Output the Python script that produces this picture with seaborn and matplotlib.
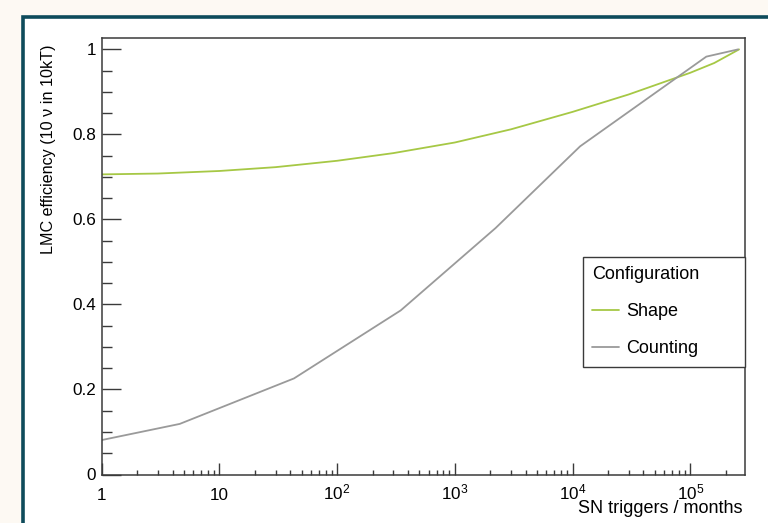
import matplotlib
matplotlib.use("Agg")
import matplotlib.pyplot as plt
import matplotlib.ticker as mticker
from matplotlib.patches import Rectangle
import numpy as np
import pandas as pd
import seaborn as sns

# --- data -----------------------------------------------------------------
shape_triggers = [1, 3, 10, 30, 100, 300, 1000, 3000, 10000, 30000, 100000, 160000, 260000]
shape_eff = [0.706, 0.708, 0.714, 0.723, 0.738, 0.756, 0.781, 0.812, 0.853, 0.894, 0.945, 0.968, 1.0]

counting_triggers = [1, 4.6, 43, 347, 2225, 11600, 137000, 255000]
counting_eff = [0.081, 0.119, 0.226, 0.386, 0.580, 0.772, 0.983, 1.0]

config_names = ["Shape", "Counting"]
config_colors = ["#a6c845", "#9a9a9a"]

xtick_values = [1, 10, 100, 1000, 10000, 100000]
xtick_labels = ["1", "10", r"$\mathregular{10^{2}}$", r"$\mathregular{10^{3}}$",
                r"$\mathregular{10^{4}}$", r"$\mathregular{10^{5}}$"]
ytick_values = [0, 0.2, 0.4, 0.6, 0.8, 1.0]
ytick_labels = ["0", "0.2", "0.4", "0.6", "0.8", "1"]

df = pd.concat([
    pd.DataFrame({"triggers": shape_triggers, "eff": shape_eff, "Configuration": "Shape"}),
    pd.DataFrame({"triggers": counting_triggers, "eff": counting_eff, "Configuration": "Counting"}),
], ignore_index=True)

# --- style ----------------------------------------------------------------
sns.set_style("white")
plt.rcParams["font.family"] = ["Liberation Sans", "DejaVu Sans"]
plt.rcParams["mathtext.fontset"] = "custom"
plt.rcParams["mathtext.rm"] = "Liberation Sans"
plt.rcParams["mathtext.it"] = "Liberation Sans:italic"
plt.rcParams["mathtext.bf"] = "Liberation Sans:bold"
plt.rcParams["text.color"] = "black"
plt.rcParams["axes.labelcolor"] = "black"

W, H = 768, 523
FS_TICK = 12.3
FS_XLAB = 13
FS_YLAB = 11.6
FS_LEG = 13
fig = plt.figure(figsize=(W / 100, H / 100), dpi=100)
fig.patch.set_facecolor("#fdf9f3")

# framed white panel behind the axes
panel = Rectangle((22.5 / W, -0.2), 1.2, 0.2 + (1 - 16.5 / H),
                  transform=fig.transFigure, facecolor="white",
                  edgecolor="#0e4b5b", linewidth=2.6, zorder=-10)
fig.patches.append(panel)

ax_left, ax_right, ax_top, ax_bottom = 101.7, 745.0, 37.5, 474.5
ax = fig.add_axes([ax_left / W, 1 - ax_bottom / H,
                   (ax_right - ax_left) / W, (ax_bottom - ax_top) / H])
ax.set_facecolor("white")

sns.lineplot(data=df, x="triggers", y="eff", hue="Configuration",
             hue_order=config_names, palette=config_colors,
             estimator=None, sort=False, linewidth=1.3, ax=ax)

ax.set_xscale("log")
ax.set_xlim(1, 2.92e5)
ax.set_ylim(0, 1.028)

for s in ax.spines.values():
    s.set_color("#3a3a3a")
    s.set_linewidth(1.1)

ax.xaxis.set_major_locator(mticker.FixedLocator(xtick_values))
ax.xaxis.set_major_formatter(mticker.FixedFormatter(xtick_labels))
ax.xaxis.set_minor_locator(mticker.LogLocator(base=10, subs=np.arange(2, 10), numticks=20))
ax.xaxis.set_minor_formatter(mticker.NullFormatter())
ax.yaxis.set_major_locator(mticker.FixedLocator(ytick_values))
ax.yaxis.set_major_formatter(mticker.FixedFormatter(ytick_labels))
ax.yaxis.set_minor_locator(mticker.MultipleLocator(0.05))

ax.tick_params(axis="both", which="both", direction="in", color="#3a3a3a",
               width=1.0, labelsize=FS_TICK, labelcolor="black",
               bottom=True, left=True, top=False, right=False)
ax.tick_params(axis="x", which="major", length=12 * 0.72, pad=18.0)
ax.tick_params(axis="x", which="minor", length=5.5 * 0.72)
ax.tick_params(axis="y", which="major", length=19 * 0.72, pad=4)
ax.tick_params(axis="y", which="minor", length=10 * 0.72)
for lab in ax.get_xticklabels():
    lab.set_verticalalignment("baseline")

ax.set_xlabel("SN triggers / months", fontsize=FS_XLAB, loc="right")
ax.xaxis.label.set_verticalalignment("baseline")
ax.xaxis.set_label_coords((742.5 - ax_left) / (ax_right - ax_left),
                          -(512.7 - ax_bottom) / (ax_bottom - ax_top))
ax.set_ylabel("LMC efficiency (10 \u03bd in 10kT)", fontsize=FS_YLAB, loc="top")
ax.yaxis.set_label_coords(-(ax_left - 56) / (ax_right - ax_left),
                          (ax_bottom - 45) / (ax_bottom - ax_top))

handles, labels = ax.get_legend_handles_labels()
ax.legend(handles, labels, title="Configuration", fontsize=FS_LEG, title_fontsize=FS_LEG,
          loc="upper left", mode="expand",
          bbox_to_anchor=((583 - ax_left) / (ax_right - ax_left),
                          (ax_bottom - 257) / (ax_bottom - ax_top),
                          (ax_right - 583) / (ax_right - ax_left), 0.0),
          frameon=True, fancybox=False, shadow=False, framealpha=1,
          edgecolor="#3a3a3a", borderpad=0.5, labelspacing=1.12,
          handlelength=1.5, handletextpad=0.4, alignment="left",
          borderaxespad=0)
ax.get_legend().get_frame().set_linewidth(1.0)

fig.savefig("out.png", dpi=100, facecolor=fig.get_facecolor())
